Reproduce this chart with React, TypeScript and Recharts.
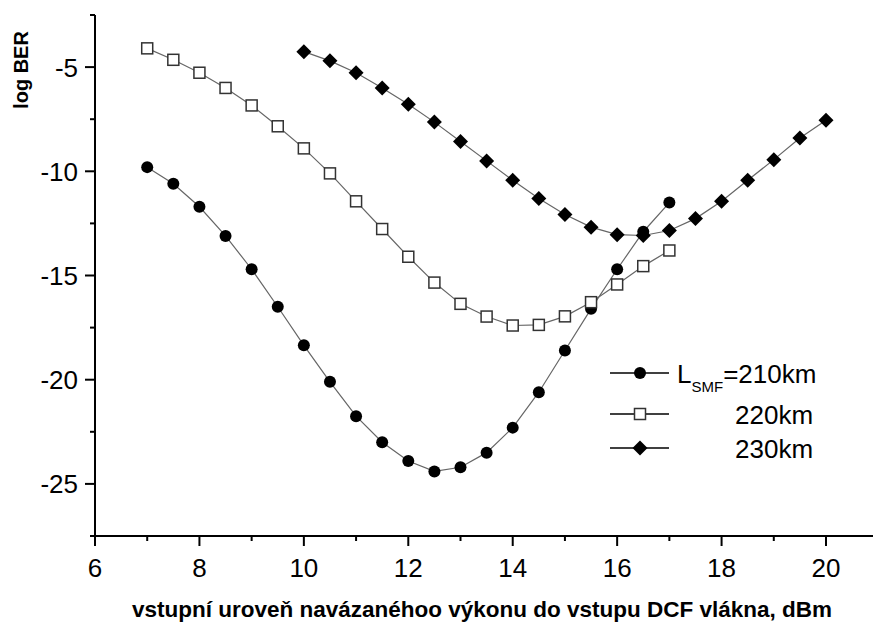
import React from 'react';
import { LineChart, Line, XAxis, YAxis, Legend, Label } from 'recharts';

// launch power into the DCF, dBm
const POWER_210 = [7, 7.5, 8, 8.5, 9, 9.5, 10, 10.5, 11, 11.5, 12, 12.5, 13, 13.5, 14, 14.5, 15, 15.5, 16, 16.5, 17];
const POWER_220 = [7, 7.5, 8, 8.5, 9, 9.5, 10, 10.5, 11, 11.5, 12, 12.5, 13, 13.5, 14, 14.5, 15, 15.5, 16, 16.5, 17];
const POWER_230 = [10, 10.5, 11, 11.5, 12, 12.5, 13, 13.5, 14, 14.5, 15, 15.5, 16, 16.5, 17, 17.5, 18, 18.5, 19, 19.5, 20];

// log BER for each SMF length
const BER_210 = [-9.8, -10.6, -11.7, -13.1, -14.7, -16.5, -18.35, -20.1, -21.75, -23.0, -23.9, -24.4, -24.2, -23.5, -22.3, -20.6, -18.6, -16.6, -14.7, -12.9, -11.5];
const BER_220 = [-4.1, -4.65, -5.27, -6.0, -6.84, -7.84, -8.9, -10.1, -11.44, -12.77, -14.1, -15.34, -16.36, -16.97, -17.4, -17.37, -16.96, -16.28, -15.43, -14.55, -13.8];
const BER_230 = [-4.26, -4.7, -5.27, -6.0, -6.78, -7.64, -8.57, -9.5, -10.43, -11.31, -12.07, -12.68, -13.04, -13.08, -12.84, -12.27, -11.44, -10.43, -9.44, -8.4, -7.55];

const X_TICKS = [6, 7, 8, 9, 10, 11, 12, 13, 14, 15, 16, 17, 18, 19, 20];
const Y_TICKS = [-27.5, -25, -22.5, -20, -17.5, -15, -12.5, -10, -7.5, -5, -2.5];

const toPoints = (xs: number[], ys: number[]) => xs.map((x, i) => ({ x, y: ys[i] }));

const FONT = '"Liberation Sans", Arial, sans-serif';
const LINE_COLOR = '#666';

type MarkerKind = 'circle' | 'square' | 'diamond';

const Marker = ({ kind, cx, cy }: { kind: MarkerKind; cx: number; cy: number }) => {
  if (kind === 'circle') return <circle cx={cx} cy={cy} r={6} fill="#000" />;
  if (kind === 'square')
    return <rect x={cx - 5.5} y={cy - 5.5} width={11} height={11} fill="#fff" stroke="#333" strokeWidth={1.5} />;
  return <polygon points={`${cx},${cy - 7.5} ${cx + 7.5},${cy} ${cx},${cy + 7.5} ${cx - 7.5},${cy}`} fill="#000" />;
};

const dotFor = (kind: MarkerKind) => (props: any) =>
  <Marker key={`${kind}-${props.index}`} kind={kind} cx={props.cx} cy={props.cy} />;

const XTick = ({ x, y, payload }: any) => {
  const major = payload.value % 2 === 0;
  return (
    <g>
      <line x1={x} y1={y} x2={x} y2={y + (major ? 10 : 5)} stroke="#000" strokeWidth={2} />
      {major && (
        <text x={x} y={y + 41} textAnchor="middle" fontSize={26} fontFamily={FONT} fill="#000">
          {payload.value}
        </text>
      )}
    </g>
  );
};

const YTick = ({ x, y, payload }: any) => {
  const major = payload.value % 5 === 0;
  return (
    <g>
      <line x1={x} y1={y} x2={x - (major ? 10 : 5)} y2={y} stroke="#000" strokeWidth={2} />
      {major && (
        <text x={x - 17} y={y + 9.5} textAnchor="end" fontSize={26} fontFamily={FONT} fill="#000">
          {payload.value}
        </text>
      )}
    </g>
  );
};

const LEGEND_ROWS: { kind: MarkerKind; label: string; cy: number }[] = [
  { kind: 'circle', label: '=210km', cy: 21 },
  { kind: 'square', label: '220km', cy: 62 },
  { kind: 'diamond', label: '230km', cy: 96 },
];

const renderLegend = () => (
  <svg width={240} height={115} style={{ display: 'block' }}>
    {LEGEND_ROWS.map((row, i) => (
      <g key={row.label}>
        <line x1={10} y1={row.cy} x2={69} y2={row.cy} stroke="#000" strokeWidth={1.3} />
        <Marker kind={row.kind} cx={40} cy={row.cy} />
        {i === 0 ? (
          <text x={77} y={row.cy + 10} fontSize={26} fontFamily={FONT} fill="#000">
            L<tspan fontSize={15} dy={9}>SMF</tspan>
            <tspan dy={-9}>{row.label}</tspan>
          </text>
        ) : (
          <text x={135} y={row.cy + 10} fontSize={26} fontFamily={FONT} fill="#000">
            {row.label}
          </text>
        )}
      </g>
    ))}
  </svg>
);

const SERIES: { name: string; kind: MarkerKind; data: { x: number; y: number }[] }[] = [
  { name: '210km', kind: 'circle', data: toPoints(POWER_210, BER_210) },
  { name: '220km', kind: 'square', data: toPoints(POWER_220, BER_220) },
  { name: '230km', kind: 'diamond', data: toPoints(POWER_230, BER_230) },
];

export default function App() {
  return (
    <div style={{ position: 'absolute', left: 0, top: 0, background: '#fff' }}>
      <LineChart width={873} height={624} margin={{ top: 15, right: 0, bottom: 0, left: 15 }}>
        <XAxis
          type="number"
          dataKey="x"
          domain={[6, 20.9]}
          ticks={X_TICKS}
          allowDataOverflow
          height={88}
          tickSize={0}
          tickMargin={0}
          tickLine={false}
          tick={<XTick />}
          axisLine={{ stroke: '#000', strokeWidth: 2 }}
          interval={0}
        >
          <Label
            content={() => (
              <text x={482} y={617} textAnchor="middle" fontSize={22.5} fontWeight="bold" fontFamily={FONT} fill="#000">
                vstupní uroveň navázanéhoo výkonu do vstupu DCF vlákna, dBm
              </text>
            )}
          />
        </XAxis>
        <YAxis
          type="number"
          domain={[-27.5, -2.5]}
          ticks={Y_TICKS}
          allowDataOverflow
          width={80}
          tickSize={0}
          tickMargin={0}
          tickLine={false}
          tick={<YTick />}
          axisLine={{ stroke: '#000', strokeWidth: 2 }}
          interval={0}
        >
          <Label
            content={() => (
              <text
                x={28}
                y={70}
                transform="rotate(-90 28 70)"
                textAnchor="middle"
                fontSize={20}
                fontWeight="bold"
                fontFamily={FONT}
                fill="#000"
              >
                log BER
              </text>
            )}
          />
        </YAxis>
        {SERIES.map((s) => (
          <Line
            key={s.name}
            name={s.name}
            data={s.data}
            dataKey="y"
            type="linear"
            stroke={LINE_COLOR}
            strokeWidth={1.2}
            dot={dotFor(s.kind)}
            activeDot={false}
            isAnimationActive={false}
          />
        ))}
        <Legend
          layout="vertical"
          align="center"
          verticalAlign="middle"
          content={renderLegend}
          wrapperStyle={{ left: 600, top: 352, width: 240 }}
        />
      </LineChart>
    </div>
  );
}
